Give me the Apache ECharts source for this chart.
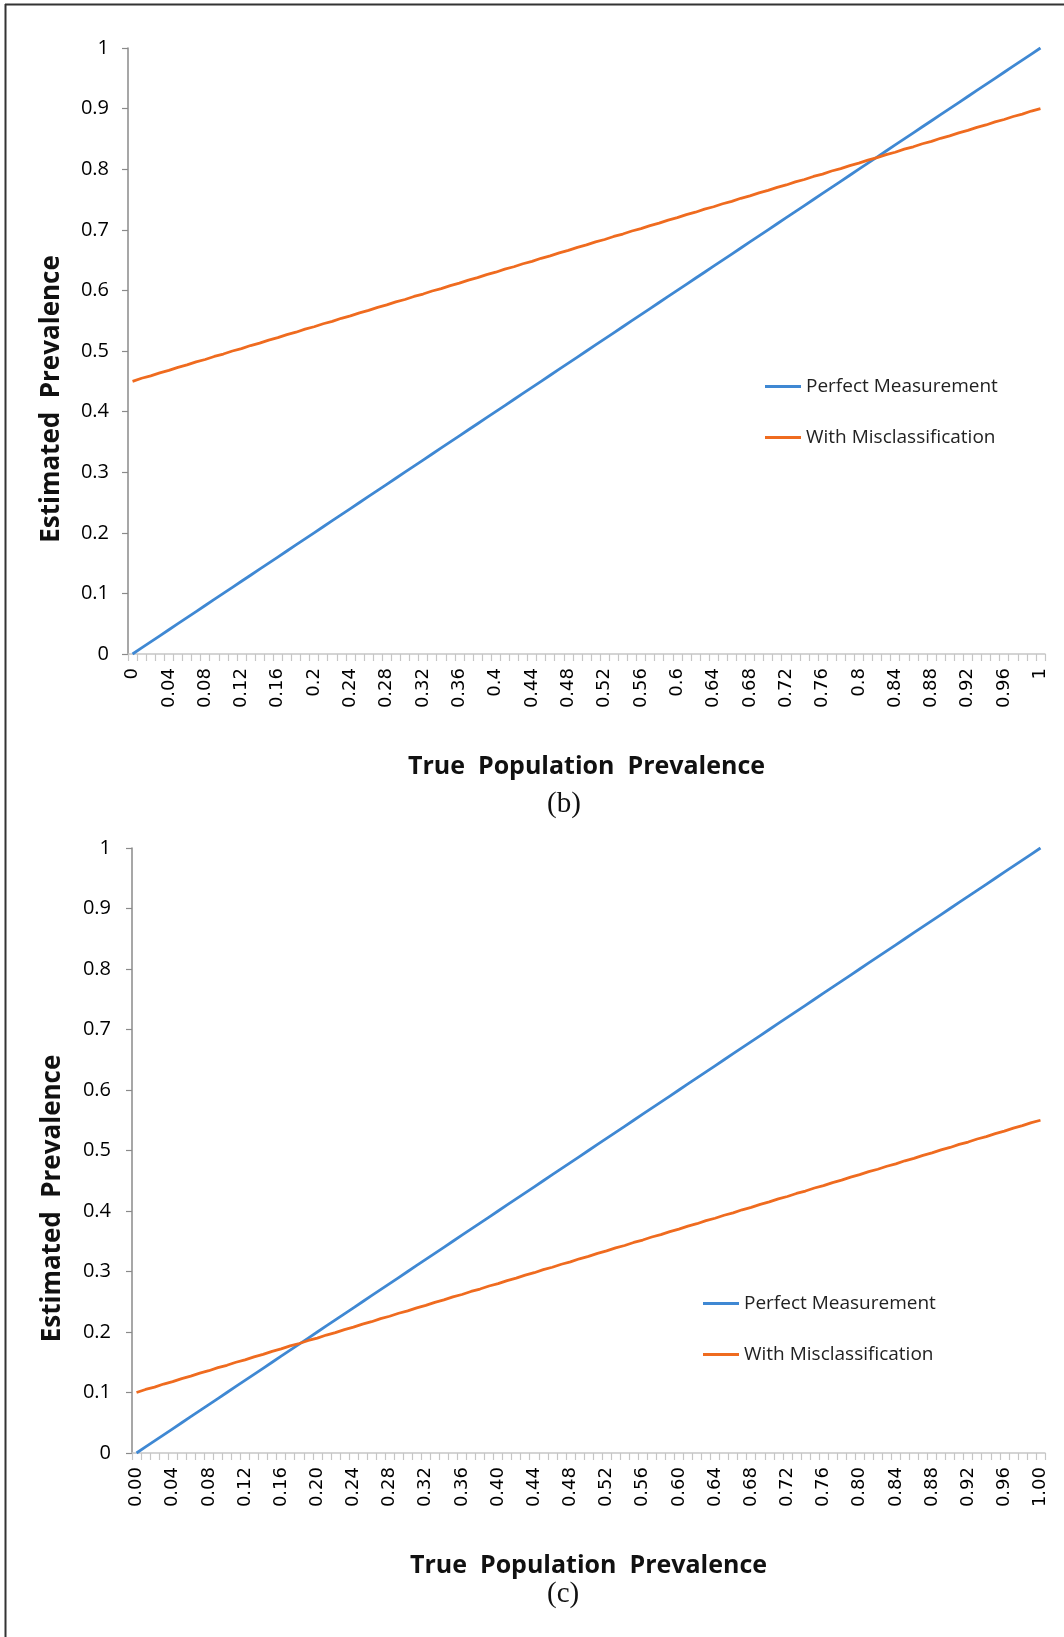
<!DOCTYPE html>
<html>
<head>
<meta charset="utf-8">
<script src="https://cdn.jsdelivr.net/npm/echarts@6/dist/echarts.min.js"></script>
<style>
html,body{margin:0;padding:0;background:#fff;}
#chart{width:1064px;height:1637px;}
</style>
</head>
<body>
<div id="chart"></div>
<script>
// Categories (true population prevalence)
var categories = ["0.00","0.01","0.02","0.03","0.04","0.05","0.06","0.07","0.08","0.09",
"0.10","0.11","0.12","0.13","0.14","0.15","0.16","0.17","0.18","0.19",
"0.20","0.21","0.22","0.23","0.24","0.25","0.26","0.27","0.28","0.29",
"0.30","0.31","0.32","0.33","0.34","0.35","0.36","0.37","0.38","0.39",
"0.40","0.41","0.42","0.43","0.44","0.45","0.46","0.47","0.48","0.49",
"0.50","0.51","0.52","0.53","0.54","0.55","0.56","0.57","0.58","0.59",
"0.60","0.61","0.62","0.63","0.64","0.65","0.66","0.67","0.68","0.69",
"0.70","0.71","0.72","0.73","0.74","0.75","0.76","0.77","0.78","0.79",
"0.80","0.81","0.82","0.83","0.84","0.85","0.86","0.87","0.88","0.89",
"0.90","0.91","0.92","0.93","0.94","0.95","0.96","0.97","0.98","0.99","1.00"];

// Perfect measurement (same in both panels)
var perfect = [0,0.01,0.02,0.03,0.04,0.05,0.06,0.07,0.08,0.09,
0.10,0.11,0.12,0.13,0.14,0.15,0.16,0.17,0.18,0.19,
0.20,0.21,0.22,0.23,0.24,0.25,0.26,0.27,0.28,0.29,
0.30,0.31,0.32,0.33,0.34,0.35,0.36,0.37,0.38,0.39,
0.40,0.41,0.42,0.43,0.44,0.45,0.46,0.47,0.48,0.49,
0.50,0.51,0.52,0.53,0.54,0.55,0.56,0.57,0.58,0.59,
0.60,0.61,0.62,0.63,0.64,0.65,0.66,0.67,0.68,0.69,
0.70,0.71,0.72,0.73,0.74,0.75,0.76,0.77,0.78,0.79,
0.80,0.81,0.82,0.83,0.84,0.85,0.86,0.87,0.88,0.89,
0.90,0.91,0.92,0.93,0.94,0.95,0.96,0.97,0.98,0.99,1.00];

// Panel (b): with misclassification
var misclassB = [0.450,0.455,0.459,0.464,0.468,0.473,0.477,0.482,0.486,0.491,
0.495,0.500,0.504,0.509,0.513,0.518,0.522,0.527,0.531,0.536,
0.540,0.545,0.549,0.554,0.558,0.563,0.567,0.572,0.576,0.581,
0.585,0.590,0.594,0.599,0.603,0.608,0.612,0.617,0.621,0.626,
0.630,0.635,0.639,0.644,0.648,0.653,0.657,0.662,0.666,0.671,
0.675,0.680,0.684,0.689,0.693,0.698,0.702,0.707,0.711,0.716,
0.720,0.725,0.729,0.734,0.738,0.743,0.747,0.752,0.756,0.761,
0.765,0.770,0.774,0.779,0.783,0.788,0.792,0.797,0.801,0.806,
0.810,0.815,0.819,0.824,0.828,0.833,0.837,0.842,0.846,0.851,
0.855,0.860,0.864,0.869,0.873,0.878,0.882,0.887,0.891,0.896,0.900];

// Panel (c): with misclassification
var misclassC = [0.100,0.105,0.109,0.114,0.118,0.123,0.127,0.132,0.136,0.141,
0.145,0.150,0.154,0.159,0.163,0.168,0.172,0.177,0.181,0.186,
0.190,0.195,0.199,0.204,0.208,0.213,0.217,0.222,0.226,0.231,
0.235,0.240,0.244,0.249,0.253,0.258,0.262,0.267,0.271,0.276,
0.280,0.285,0.289,0.294,0.298,0.303,0.307,0.312,0.316,0.321,
0.325,0.330,0.334,0.339,0.343,0.348,0.352,0.357,0.361,0.366,
0.370,0.375,0.379,0.384,0.388,0.393,0.397,0.402,0.406,0.411,
0.415,0.420,0.424,0.429,0.433,0.438,0.442,0.447,0.451,0.456,
0.460,0.465,0.469,0.474,0.478,0.483,0.487,0.492,0.496,0.501,
0.505,0.510,0.514,0.519,0.523,0.528,0.532,0.537,0.541,0.546,0.550];

var seriesNames = ["Perfect Measurement", "With Misclassification"];
var xTitle = "True  Population  Prevalence";
var yTitle = "Estimated  Prevalence";
var captions = ["(b)", "(c)"];

var BLUE = '#3f88d3', ORANGE = '#ef6b1f';
var chart = echarts.init(document.getElementById('chart'), null, {renderer: 'canvas'});

function xAxisFor(gridIndex, fmt) {
  return {
    type: 'category', gridIndex: gridIndex, data: categories, boundaryGap: true,
    axisLine: {lineStyle: {color: '#c6c6c6', width: 1.5}},
    axisTick: {show: true, interval: 0, length: 7, lineStyle: {color: '#c6c6c6', width: 1.2}},
    axisLabel: {interval: 3, rotate: 90, margin: 14, color: '#000',
      fontFamily: 'DejaVu Sans', fontSize: 18, formatter: fmt},
    splitLine: {show: false},
    name: xTitle, nameLocation: 'middle', nameGap: 100,
    nameTextStyle: {fontFamily: 'Open Sans', fontWeight: 'bold', fontSize: 25, color: '#111'}
  };
}
function yAxisFor(gridIndex, margin, gap) {
  return {
    type: 'value', gridIndex: gridIndex, min: 0, max: 1, interval: 0.1,
    axisLine: {show: true, lineStyle: {color: '#8a8a8a', width: 1.5}},
    axisTick: {show: true, length: 6, lineStyle: {color: '#8a8a8a', width: 1.2}},
    axisLabel: {margin: margin, color: '#000', fontFamily: 'Open Sans', fontSize: 20,
      formatter: function (v) { return String(Math.round(v * 10) / 10); }},
    splitLine: {show: false},
    name: yTitle, nameLocation: 'middle', nameGap: gap, nameRotate: 90,
    nameTextStyle: {fontFamily: 'Open Sans', fontWeight: 'bold', fontSize: 26, color: '#111',
      padding: [0, 96, 0, 0]}
  };
}
function lineSeries(name, data, idx, color) {
  return {
    type: 'line', name: name, xAxisIndex: idx, yAxisIndex: idx, data: data,
    showSymbol: false, symbol: 'none', smooth: false,
    lineStyle: {color: color, width: 2.8}, itemStyle: {color: color}
  };
}

var option = {
  animation: false,
  backgroundColor: '#ffffff',
  grid: [
    {left: 128, right: 19, top: 48, height: 606},
    {left: 132, right: 19, top: 848, height: 605}
  ],
  xAxis: [
    xAxisFor(0, function (v) { return String(Number(v)); }),
    xAxisFor(1, function (v) { return v; })
  ],
  yAxis: [yAxisFor(0, 19, 63), yAxisFor(1, 21, 66)],
  legend: [
    {orient: 'vertical', left: 760, top: 372, itemGap: 32, itemWidth: 36, itemHeight: 3,
      icon: 'rect', data: seriesNames,
      textStyle: {fontFamily: 'Open Sans', fontSize: 19, color: '#222'}},
    {orient: 'vertical', left: 698, top: 1289, itemGap: 32, itemWidth: 36, itemHeight: 3,
      icon: 'rect', data: seriesNames,
      textStyle: {fontFamily: 'Open Sans', fontSize: 19, color: '#222'}}
  ],
  series: [
    lineSeries(seriesNames[0], perfect, 0, BLUE),
    lineSeries(seriesNames[1], misclassB, 0, ORANGE),
    lineSeries(seriesNames[0], perfect, 1, BLUE),
    lineSeries(seriesNames[1], misclassC, 1, ORANGE)
  ],
  graphic: [
    {type: 'line', shape: {x1: 5, y1: 4.5, x2: 1064, y2: 4.5}, style: {stroke: '#333', lineWidth: 2}},
    {type: 'line', shape: {x1: 5.5, y1: 4, x2: 5.5, y2: 1637}, style: {stroke: '#333', lineWidth: 2}},
    {type: 'text', left: 547, top: 790, style: {text: captions[0], fontFamily: 'Liberation Serif', fontSize: 29, fill: '#111'}},
    {type: 'text', left: 547, top: 1580, style: {text: captions[1], fontFamily: 'Liberation Serif', fontSize: 29, fill: '#111'}}
  ]
};
chart.setOption(option);
</script>
</body>
</html>
